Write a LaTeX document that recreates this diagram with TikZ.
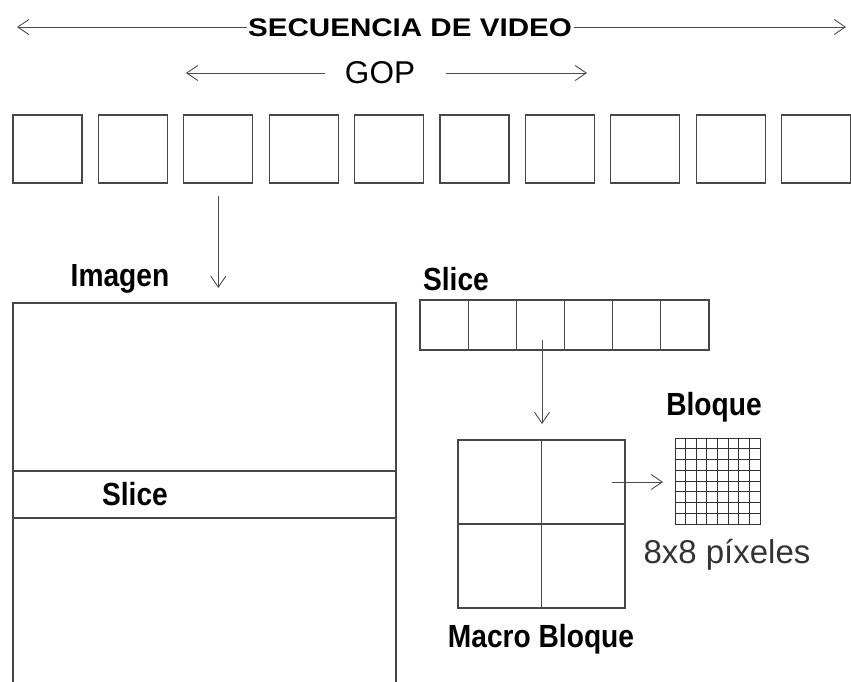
\documentclass[tikz,border=0pt]{standalone}
\usepackage{fontspec}
\setmainfont{Liberation Sans}
\newfontfamily\narrowfont[FakeStretch=0.88]{Liberation Sans}
\newfontfamily\widefont[FakeStretch=1.16]{Liberation Sans}
\usetikzlibrary{arrows.meta,calc}

\begin{document}
\begin{tikzpicture}[x=1pt,y=-1pt,
  linecol/.style={draw=black!72, line width=1.2pt},
  framebox/.style={linecol, minimum width=69pt, minimum height=68pt, inner sep=0pt, outer sep=0pt},
  conn/.style={draw=black!70, line width=0.9pt, -{Straight Barb[length=11pt,width=15pt,line width=0.9pt]}},
  gridline/.style={draw=black!80, line width=0.9pt},
  tag/.style={inner sep=0pt, anchor=base, font=\narrowfont\bfseries\fontsize{32}{36}\selectfont},
]
\useasboundingbox (0,0) rectangle (851,681);

% --- video sequence and GOP spans ---
\node[inner sep=0pt, font=\widefont\bfseries\fontsize{25.5}{30}\selectfont] (seq) at (410,28) {SECUENCIA DE VIDEO};
\coordinate (seqL) at (17,27);
\coordinate (seqR) at (846,27);
\draw[conn] ([xshift=-1pt]seq.west |- seqL) -- (seqL);
\draw[conn] ([xshift=2pt]seq.east |- seqR) -- (seqR);

\node[inner sep=0pt, font=\fontsize{31.5}{36}\selectfont] (gop) at (380,73) {GOP};
\coordinate (gopLs) at (325,73);
\coordinate (gopL) at (186,73);
\coordinate (gopRs) at (446,73);
\coordinate (gopR) at (587,73);
\draw[conn] (gopLs) -- (gopL);
\draw[conn] (gopRs) -- (gopR);

% --- row of pictures ---
\foreach \i in {0,...,9}
  \node[framebox] (f\i) at ({47.5+85.4*\i},149) {};

% --- one picture split into slices ---
\coordinate (imgtip) at (f2.south |- 0,288);
\draw[conn, shorten <=13pt] (f2.south) -- (imgtip);
\node[tag] (imglbl) at (120,286) {Imagen};
\coordinate (imTL) at (13,303);
\coordinate (imTR) at (396,303);
\coordinate (imBL) at (13,690);
\coordinate (imBR) at (396,690);
\draw[linecol] (imBL) -- (imTL) -- (imTR) -- (imBR);
\draw[linecol] (13,471) -- (396,471);
\draw[linecol] (13,518) -- (396,518);
\node[tag] (slicein) at (135,505) {Slice};

% --- slice made of macroblocks ---
\node[tag] (slicelbl) at (456,290) {Slice};
\node[linecol, minimum width=289pt, minimum height=50pt, inner sep=0pt, outer sep=0pt] (strip) at (564.5,325) {};
\foreach \k in {1,...,5}
  \draw[linecol] ($(strip.north west)!\k/6!(strip.north east)$) -- ($(strip.south west)!\k/6!(strip.south east)$);

% --- macroblock ---
\node[linecol, minimum width=167pt, minimum height=168pt, inner sep=0pt, outer sep=0pt] (mb) at (541.5,524) {};
\draw[linecol] (mb.north) -- (mb.south);
\draw[linecol] (mb.west) -- (mb.east);
\coordinate (mbtip) at (542,424);
\draw[conn] ([yshift=10pt]strip.south -| mbtip) -- (mbtip);
\node[tag] (mblbl) at (541,647) {Macro Bloque};

% --- 8x8 block ---
\node[gridline, minimum width=85pt, minimum height=86pt, inner sep=0pt, outer sep=0pt] (blk) at (717.5,481) {};
\foreach \k in {1,...,7} {
  \draw[gridline] ($(blk.south west)!\k/8!(blk.south east)$) -- ($(blk.north west)!\k/8!(blk.north east)$);
  \draw[gridline] ($(blk.north west)!\k/8!(blk.south west)$) -- ($(blk.north east)!\k/8!(blk.south east)$);
}
\coordinate (blktail) at (612,482);
\draw[conn] (blktail) -- ([xshift=-12pt]blk.west |- blktail);
\node[tag] (blklbl) at (714,415) {Bloque};
\node[inner sep=0pt, anchor=base, text=black!80, font=\fontsize{33}{38}\selectfont] (pxlbl) at (727,563) {8x8 píxeles};
\end{tikzpicture}
\end{document}
